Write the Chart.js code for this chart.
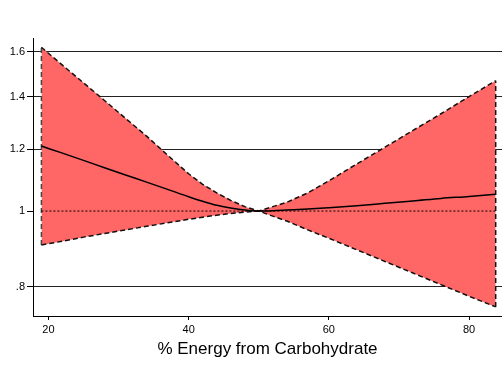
<!DOCTYPE html>
<html>
<head>
<meta charset="utf-8">
<script src="https://cdn.jsdelivr.net/npm/chart.js@4/dist/chart.umd.min.js"></script>
<style>
  html, body { margin: 0; padding: 0; background: #fff; }
  #wrap { width: 502px; height: 367px; position: relative; }
</style>
</head>
<body>
<div id="wrap"><canvas id="c" width="502" height="367"></canvas></div>
<script>
// Relative risk by % energy from carbohydrate (reference = 50%)
const carbPct  = [19, 22, 25, 28, 31, 34, 37, 40, 42, 44, 46, 48, 50,
                  52, 54, 57, 60, 64, 68, 72, 76, 80, 83.8];
const estimate = [1.211, 1.186, 1.161, 1.136, 1.112, 1.089, 1.066, 1.043, 1.029, 1.017, 1.009, 1.003, 1.000,
                  1.001, 1.003, 1.006, 1.010, 1.016, 1.023, 1.030, 1.038, 1.044, 1.051];
const upperCI  = [1.620, 1.537, 1.459, 1.385, 1.314, 1.247, 1.179, 1.116, 1.082, 1.055, 1.032, 1.013, 1.000,
                  1.013, 1.026, 1.055, 1.093, 1.149, 1.207, 1.268, 1.332, 1.401, 1.468];
const lowerCI  = [0.905, 0.915, 0.926, 0.936, 0.946, 0.956, 0.966, 0.976, 0.982, 0.988, 0.993, 0.997, 1.000,
                  0.985, 0.971, 0.946, 0.923, 0.892, 0.862, 0.833, 0.805, 0.778, 0.754];
const referenceValue = 1;

const yTickValues = [0.8, 1, 1.2, 1.4, 1.6];
const yTickLabels = ['.8', '1', '1.2', '1.4', '1.6'];
const xTickValues = [20, 40, 60, 80];
const xTitle = '% Energy from Carbohydrate';

const pts = (ys) => carbPct.map((x, i) => ({ x: x, y: ys[i] }));
const last = carbPct.length - 1;

const FONT = "'Liberation Sans', Arial, Helvetica, sans-serif";
const dashStyle = { borderColor: '#111', borderWidth: 1.5, borderDash: [5, 3], pointRadius: 0, tension: 0 };

new Chart(document.getElementById('c'), {
  type: 'line',
  data: {
    datasets: [
      { label: 'estimate', data: pts(estimate), borderColor: '#000', borderWidth: 1.5,
        pointRadius: 0, fill: false, cubicInterpolationMode: 'monotone' },
      { label: 'reference', data: carbPct.map(x => ({ x: x, y: referenceValue })),
        borderColor: '#000', borderWidth: 1, borderDash: [2, 2], pointRadius: 0, fill: false },
      Object.assign({ label: 'upper', data: pts(upperCI), fill: '+1',
        backgroundColor: 'rgb(255,102,102)' }, dashStyle),
      Object.assign({ label: 'lower', data: pts(lowerCI), fill: false }, dashStyle),
      Object.assign({ label: 'edgeL', data: [{ x: carbPct[0], y: lowerCI[0] }, { x: carbPct[0], y: upperCI[0] }],
        fill: false }, dashStyle, { borderColor: '#444' }),
      Object.assign({ label: 'edgeR', data: [{ x: carbPct[last], y: lowerCI[last] }, { x: carbPct[last], y: upperCI[last] }],
        fill: false }, dashStyle)
    ]
  },
  options: {
    responsive: false,
    animation: false,
    layout: { padding: { top: 38, right: 0, left: 0, bottom: 0 } },
    plugins: {
      legend: { display: false },
      tooltip: { enabled: false },
      filler: { drawTime: 'beforeDatasetsDraw' }
    },
    scales: {
      x: {
        type: 'linear',
        bounds: 'data',
        min: 17.8,
        max: 84.7,
        afterBuildTicks: (s) => { s.ticks = xTickValues.map(v => ({ value: v })); },
        afterFit: (s) => { s.height = 51; },
        grid: { drawOnChartArea: false, drawTicks: true, tickLength: 4, tickColor: '#000', tickWidth: 1 },
        border: { display: true, color: '#000', width: 1 },
        ticks: { color: '#000', font: { family: FONT, size: 11 }, padding: 3, maxRotation: 0,
                 callback: (v) => String(v) },
        title: { display: true, text: xTitle, color: '#000', font: { family: FONT, size: 17 },
                 padding: { top: 0, bottom: 7 } }
      },
      y: {
        type: 'logarithmic',
        bounds: 'data',
        min: 0.734,
        max: 1.665,
        afterBuildTicks: (s) => { s.ticks = yTickValues.map(v => ({ value: v })); },
        afterFit: (s) => { s.width = 33; },
        grid: {
          color: (ctx) => (ctx.tick && ctx.tick.value === referenceValue) ? 'rgba(0,0,0,0)' : '#222',
          lineWidth: 1,
          drawTicks: true, tickLength: 6, tickColor: '#000', tickWidth: 1
        },
        border: { display: true, color: '#000', width: 1 },
        ticks: {
          color: '#000', font: { family: FONT, size: 11 }, padding: 2,
          callback: (v) => { const i = yTickValues.indexOf(v); return i >= 0 ? yTickLabels[i] : ''; }
        }
      }
    }
  }
});
</script>
</body>
</html>
